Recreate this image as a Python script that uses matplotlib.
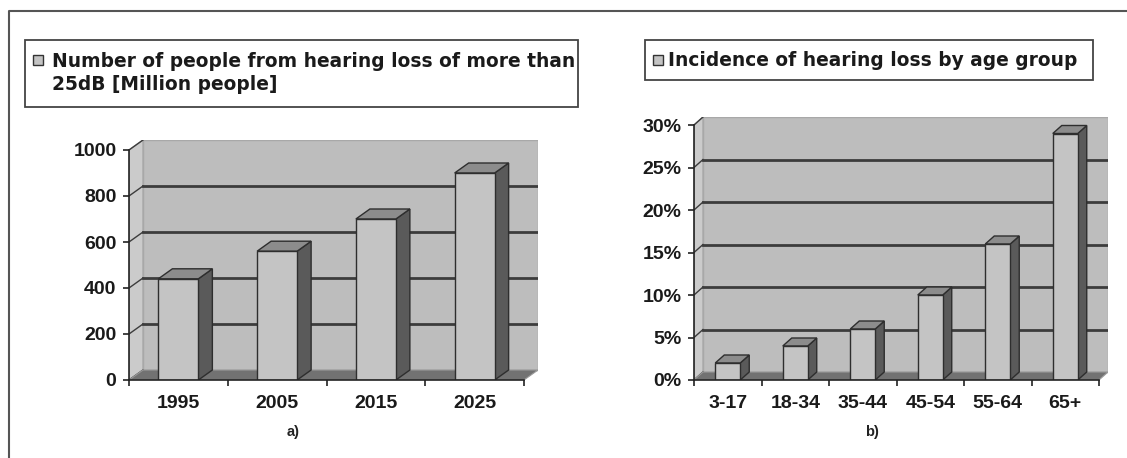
import matplotlib
matplotlib.use("Agg")
import matplotlib.pyplot as plt
from matplotlib.patches import Rectangle
from matplotlib.lines import Line2D

# --- data -------------------------------------------------------------
years = ["1995", "2005", "2015", "2025"]
people_millions = [440, 560, 700, 900]
people_ticks = [0, 200, 400, 600, 800, 1000]

age_groups = ["3-17", "18-34", "35-44", "45-54", "55-64", "65+"]
incidence_pct = [2, 4, 6, 10, 16, 29]
incidence_ticks = [0, 5, 10, 15, 20, 25, 30]

legend_a = "Number of people from hearing loss of more than\n25dB [Million people]"
legend_b = "Incidence of hearing loss by age group"

# --- style ------------------------------------------------------------
W, H = 1127, 458
FONT = "Liberation Sans"
LEGEND_FONT = "DejaVu Sans"
WALL = "#bdbdbd"
SIDE_WALL = "#cbcbcb"
FLOOR = "#727272"
GRID = "#3c3c3c"
BAR_FRONT = "#c4c4c4"
BAR_SIDE = "#5a5a5a"
BAR_TOP = "#8c8c8c"
EDGE = "#2e2e2e"

plt.rcParams["font.family"] = [FONT, "DejaVu Sans"]

fig = plt.figure(figsize=(W / 100, H / 100), dpi=100)
fig.patch.set_facecolor("white")


def fx(x):
    return x / W


def fy(y):
    return 1 - y / H


def bar_chart_3d(rect_px, cats, vals, ticks, depth_px, bar_w, fmt):
    """Excel-style 3D column chart on a flat axes; rect_px = (x0, top, x1, bottom)."""
    x0, top, x1, bottom = rect_px
    ax = fig.add_axes([fx(x0), fy(bottom), fx(x1 - x0), (bottom - top) / H])
    n = len(cats)
    vmax = ticks[-1]
    # pixel sizes of one data unit, used to turn the depth offset into data units
    front_w = (x1 - x0) - depth_px[0]
    front_h = (bottom - top) - depth_px[1]
    dx = depth_px[0] / (front_w / n)
    dy = depth_px[1] / (front_h / vmax)
    ax.set_xlim(0, n + dx)
    ax.set_ylim(0, vmax + dy)
    ax.set_facecolor("none")

    # back wall, side wall and floor
    ax.fill([dx, n + dx, n + dx, dx], [dy, dy, vmax + dy, vmax + dy],
            facecolor=WALL, edgecolor="#a8a8a8", lw=1, zorder=1)
    ax.fill([0, dx, dx, 0], [0, dy, vmax + dy, vmax],
            facecolor=SIDE_WALL, edgecolor="#a8a8a8", lw=1, zorder=1)
    for t in ticks[1:-1]:
        ax.plot([dx, n + dx], [t + dy, t + dy], color=GRID, lw=2, zorder=2)
    for t in ticks:
        ax.plot([0, dx], [t, t + dy], color=GRID, lw=1, zorder=2)
    ax.fill([0, n, n + dx, dx], [0, 0, dy, dy],
            facecolor=FLOOR, edgecolor="#9a9a9a", lw=0.8, zorder=3)

    # columns: front face via bar, side and top faces from the same values
    centers = [i + 0.5 for i in range(n)]
    ax.bar(centers, vals, width=bar_w, color=BAR_FRONT, edgecolor=EDGE,
           lw=1, zorder=5)
    for c, v in zip(centers, vals):
        r, l = c + bar_w / 2, c - bar_w / 2
        ax.fill([r, r + dx, r + dx, r], [0, dy, v + dy, v],
                facecolor=BAR_SIDE, edgecolor=EDGE, lw=1, zorder=4)
        ax.fill([l, r, r + dx, l + dx], [v, v, v + dy, v + dy],
                facecolor=BAR_TOP, edgecolor=EDGE, lw=1, zorder=4)

    # axes
    for s in ["top", "right"]:
        ax.spines[s].set_visible(False)
    ax.spines["left"].set_bounds(0, vmax)
    ax.spines["bottom"].set_bounds(0, n)
    for s in ["left", "bottom"]:
        ax.spines[s].set_color("#222222")
        ax.spines[s].set_linewidth(1.2)
        ax.spines[s].set_zorder(6)
    ax.set_yticks(ticks)
    ax.set_yticklabels([fmt(t) for t in ticks])
    ax.set_xticks(range(n + 1))
    ax.set_xticklabels([])
    ax.set_xticks(centers, minor=True)
    ax.set_xticklabels(cats, minor=True)
    ax.tick_params(axis="y", length=4, width=1.2, pad=5, labelsize=14,
                   color="#222222")
    ax.tick_params(axis="x", which="major", length=4, width=1.2,
                   color="#222222")
    ax.tick_params(axis="x", which="minor", length=0, pad=11, labelsize=14)
    for lab in ax.get_yticklabels() + ax.get_xticklabels(minor=True):
        lab.set_fontweight("bold")
        lab.set_color("#1a1a1a")
    return ax


ax_a = bar_chart_3d((129, 140, 538, 380), years, people_millions, people_ticks,
                    (14, 10), 0.405, lambda t: f"{t}")
ax_b = bar_chart_3d((694, 117, 1108, 380), age_groups, incidence_pct,
                    incidence_ticks, (9, 8), 0.37, lambda t: f"{t}%")


def legend_box(x0, y0, x1, y1, mx, my, tx, ty, text):
    fig.add_artist(Rectangle((fx(x0), fy(y1)), fx(x1 - x0), (y1 - y0) / H,
                             transform=fig.transFigure, facecolor="white",
                             edgecolor="#444444", lw=1.3))
    fig.add_artist(Rectangle((fx(mx), fy(my + 5)), fx(10), 10 / H,
                             transform=fig.transFigure, facecolor=BAR_FRONT,
                             edgecolor="#333333", lw=1))
    fig.text(fx(tx), fy(ty), text, ha="left", va="center",
             fontsize=13.4, fontweight="bold", color="#1a1a1a",
             family=LEGEND_FONT, linespacing=1.3)


legend_box(25, 40, 578, 107, 33, 60, 52, 73, legend_a)
legend_box(645, 40, 1093, 80, 653, 60, 668, 60, legend_b)

fig.text(fx(293), fy(432), "a)", ha="center", va="center", fontsize=10.5,
         fontweight="bold", color="#222222")
fig.text(fx(872), fy(432), "b)", ha="center", va="center", fontsize=10.5,
         fontweight="bold", color="#222222")

# outer frame (left and top edges)
fig.add_artist(Line2D([fx(8.5), fx(8.5), fx(W)], [0, fy(11), fy(11)],
                      transform=fig.transFigure, color="#555555", lw=1.5))

fig.savefig("out.png", dpi=100, facecolor="white")
